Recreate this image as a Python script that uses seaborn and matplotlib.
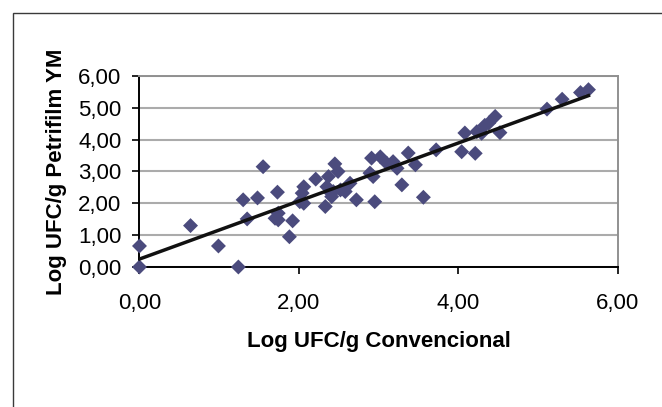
import numpy as np
import pandas as pd
import seaborn as sns
import matplotlib
matplotlib.use('Agg')
import matplotlib.pyplot as plt
import matplotlib.ticker as ticker
from matplotlib.patches import Rectangle

# Log counts
log_convencional = [0.00, 0.00, 0.64, 0.99, 1.24, 1.30, 1.35, 1.48, 1.55, 1.70,
                    1.73, 1.74, 1.74, 1.88, 1.92, 2.01, 2.04, 2.06, 2.06, 2.21,
                    2.33, 2.35, 2.37, 2.39, 2.41, 2.43, 2.45, 2.49, 2.52, 2.58,
                    2.64, 2.72, 2.89, 2.91, 2.93, 2.95, 3.02, 3.10, 3.18, 3.23,
                    3.29, 3.37, 3.46, 3.56, 3.72, 4.04, 4.08, 4.21, 4.23, 4.29,
                    4.33, 4.38, 4.46, 4.52, 5.11, 5.30, 5.53, 5.63]
log_petrifilm = [0.66, 0.00, 1.30, 0.66, 0.00, 2.11, 1.51, 2.17, 3.15, 1.53,
                 2.35, 1.48, 1.69, 0.95, 1.45, 2.05, 2.32, 2.52, 2.00, 2.76,
                 1.90, 2.52, 2.84, 2.35, 2.21, 2.37, 3.24, 3.00, 2.42, 2.37,
                 2.63, 2.11, 2.95, 3.42, 2.84, 2.05, 3.46, 3.26, 3.31, 3.10,
                 2.58, 3.58, 3.21, 2.19, 3.68, 3.62, 4.21, 3.57, 4.25, 4.20,
                 4.45, 4.52, 4.73, 4.22, 4.96, 5.27, 5.48, 5.57]

df = pd.DataFrame({'conv': log_convencional, 'petri': log_petrifilm})

plt.rcParams['font.family'] = ['Liberation Sans', 'DejaVu Sans']

fig = plt.figure(figsize=(6.62, 4.07), dpi=100)
ax = fig.add_axes([0.2107, 0.344, 0.7228, 0.4693])

# Outer chart border (cropped on right/bottom in the original)
fig.patches.append(Rectangle((13 / 662, -0.05), 1.2, 1 - 13 / 407 + 0.05,
                             transform=fig.transFigure, fill=False,
                             edgecolor='#3a3a3a', linewidth=1.0))

ax.yaxis.grid(True, color='#ababab', linewidth=1.5)
ax.set_axisbelow(True)

# markers on the axes are drawn whole, not clipped
sns.scatterplot(data=df, x='conv', y='petri', ax=ax, marker='D', s=58,
                color='#4b4b7d', edgecolor='none', zorder=3, clip_on=False)
sns.regplot(data=df, x='conv', y='petri', ax=ax, scatter=False, ci=None,
            truncate=True, line_kws={'color': '#111111', 'linewidth': 2.5, 'zorder': 4})

ax.set_xlim(0, 6)
ax.set_ylim(0, 6)
ax.xaxis.set_major_locator(ticker.MultipleLocator(2))
ax.yaxis.set_major_locator(ticker.MultipleLocator(1))
comma_fmt = ticker.FuncFormatter(lambda v, pos: f'{v:.2f}'.replace('.', ','))
ax.xaxis.set_major_formatter(comma_fmt)
ax.yaxis.set_major_formatter(comma_fmt)
ax.tick_params(axis='both', labelsize=16, length=5, width=1.2, color='black')
ax.tick_params(axis='x', pad=14)
ax.tick_params(axis='y', pad=8)

ax.set_xlabel('Log UFC/g Convencional', fontsize=16, fontweight='bold', labelpad=12)
ax.set_ylabel('Log UFC/g Petrifilm YM', fontsize=16, fontweight='bold', labelpad=8)

for side in ['left', 'bottom']:
    ax.spines[side].set_color('black')
    ax.spines[side].set_linewidth(1.4)
for side in ['top', 'right']:
    ax.spines[side].set_color('#909090')
    ax.spines[side].set_linewidth(1.4)

fig.savefig('out.png', dpi=100)
